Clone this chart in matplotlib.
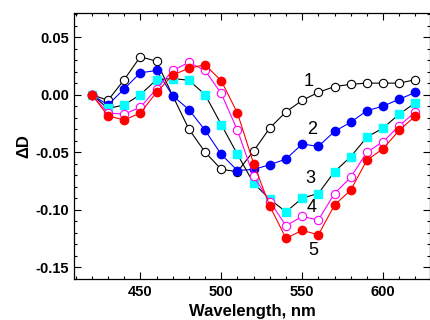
import matplotlib
matplotlib.use("Agg")
import matplotlib.pyplot as plt
from matplotlib.ticker import MultipleLocator

plt.rcParams['font.family'] = ['Liberation Sans', 'DejaVu Sans']

# Wavelength grid, nm
wavelength = [420, 430, 440, 450, 460, 470, 480, 490, 500, 510, 520,
              530, 540, 550, 560, 570, 580, 590, 600, 610, 620]

# Difference spectra (Delta D), curves 1..5
curve1 = [0.000, -0.005, 0.013, 0.033, 0.029, -0.001, -0.030, -0.050, -0.065, -0.067, -0.049,
          -0.029, -0.015, -0.005, 0.002, 0.007, 0.009, 0.010, 0.010, 0.010, 0.013]
curve2 = [0.000, -0.009, 0.005, 0.019, 0.021, -0.001, -0.013, -0.031, -0.052, -0.066, -0.065,
          -0.061, -0.056, -0.043, -0.045, -0.032, -0.024, -0.014, -0.010, -0.004, 0.002]
curve3 = [0.000, -0.012, -0.009, 0.000, 0.013, 0.014, 0.0125, 0.000, -0.026, -0.052, -0.077,
          -0.091, -0.102, -0.090, -0.086, -0.067, -0.054, -0.037, -0.029, -0.017, -0.007]
curve4 = [0.000, -0.016, -0.017, -0.011, 0.005, 0.021, 0.028, 0.021, 0.001, -0.031, -0.071,
          -0.093, -0.114, -0.106, -0.109, -0.086, -0.072, -0.050, -0.041, -0.027, -0.015]
curve5 = [0.000, -0.0185, -0.022, -0.016, 0.002, 0.017, 0.023, 0.026, 0.012, -0.016, -0.060,
          -0.097, -0.125, -0.118, -0.122, -0.096, -0.083, -0.057, -0.047, -0.031, -0.0185]

labels = ["1", "2", "3", "4", "5"]
label_x = [554, 556, 555, 556, 557]
label_y = [0.0116, -0.030, -0.073, -0.0985, -0.136]

fig = plt.figure(figsize=(4.31, 3.20), dpi=100)
ax = fig.add_axes([0.1717, 0.128, 0.826, 0.831])

ax.plot(wavelength, curve1, color="black", lw=0.8, marker="o", ms=6,
        mfc="white", mec="black", mew=0.8)
ax.plot(wavelength, curve2, color="blue", lw=0.8, marker="o", ms=6,
        mfc="blue", mec="blue")
ax.plot(wavelength, curve3, color="black", lw=0.8, marker="s", ms=5.5,
        mfc="cyan", mec="cyan")
ax.plot(wavelength, curve4, color="magenta", lw=0.8, marker="o", ms=6,
        mfc="white", mec="magenta", mew=0.8)
ax.plot(wavelength, curve5, color="red", lw=0.8, marker="o", ms=6,
        mfc="red", mec="red")

for lab, lx, ly in zip(labels, label_x, label_y):
    ax.text(lx, ly, lab, fontsize=13, ha="center", va="center")

ax.set_xlim(409, 629)
ax.set_ylim(-0.1604, 0.0709)
ax.xaxis.set_major_locator(MultipleLocator(50))
ax.xaxis.set_minor_locator(MultipleLocator(10))
ax.yaxis.set_major_locator(MultipleLocator(0.05))
ax.yaxis.set_minor_locator(MultipleLocator(0.01))
ax.yaxis.set_major_formatter(matplotlib.ticker.FormatStrFormatter("%.2f"))

ax.tick_params(which="both", direction="in", top=True, right=True, width=0.8)
ax.tick_params(which="major", length=5, labelsize=10.5)
ax.tick_params(axis="x", which="major", pad=4.5)
ax.tick_params(which="minor", length=2.5)
for lbl in ax.get_xticklabels() + ax.get_yticklabels():
    lbl.set_fontweight("bold")

for sp in ax.spines.values():
    sp.set_linewidth(0.9)

ax.set_xlabel("Wavelength, nm", fontsize=12, fontweight="bold", labelpad=3.5)
ax.set_ylabel("ΔD", fontsize=12, fontweight="bold", labelpad=3)

fig.savefig("out.png", dpi=100)
